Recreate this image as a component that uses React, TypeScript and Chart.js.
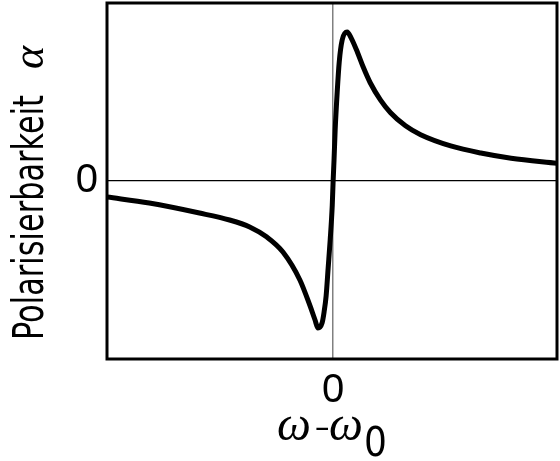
import React, { useEffect, useRef } from "react";
import { Chart, registerables } from "chart.js";

Chart.register(...registerables);

// ω − ω0 (arbitrary units)
const detuning = [
  -10, -8.13, -5.91, -4.58, -3.69, -2.93, -2.22, -1.47, -1.02, -0.8, -0.67,
  -0.49, -0.4, -0.31, -0.22, -0.13, -0.04, 0, 0.04, 0.09, 0.18, 0.27, 0.4,
  0.62, 0.8, 1.07, 1.33, 1.64, 2.09, 2.53, 3.2, 3.87, 5.2, 6.53, 7.87, 9.9,
];
// Polarisierbarkeit α (arbitrary units)
const polarizability = [
  -0.9, -1.24, -1.8, -2.19, -2.58, -3.15, -3.99, -5.56, -7.02, -7.81, -8.26,
  -7.98, -7.36, -6.46, -4.89, -3.31, -1.4, 0, 1.18, 2.87, 5.0, 6.69, 7.92,
  8.37, 8.03, 7.25, 6.4, 5.52, 4.56, 3.85, 3.1, 2.6, 1.97, 1.57, 1.28, 1.0,
];
const xTicks = [0];
const yTicks = [0];
const yTitle = "Polarisierbarkeit";
const yTitleSymbol = "α";
const xTitleParts = ["ω", "–", "ω", "0"];

const SANS_NARROW = '"Liberation Sans Narrow", "DejaVu Sans Condensed", "Liberation Sans", sans-serif';
const SERIF_ITALIC = 'italic 48px "Liberation Serif", "DejaVu Serif", serif';

const framePlugin = {
  id: "frameAndTitles",
  afterDraw(chart: any) {
    const { ctx, chartArea: a } = chart;
    ctx.save();
    ctx.strokeStyle = "#000";
    ctx.lineWidth = 3;
    ctx.strokeRect(a.left, a.top, a.right - a.left, a.bottom - a.top);
    ctx.fillStyle = "#000";

    // y title (rotated)
    ctx.save();
    ctx.translate(43, 340);
    ctx.rotate(-Math.PI / 2);
    ctx.textAlign = "left";
    ctx.textBaseline = "alphabetic";
    ctx.font = "42px " + SANS_NARROW;
    const w = ctx.measureText(yTitle).width;
    const s = 245 / w;
    ctx.save();
    ctx.scale(s, 1);
    ctx.fillText(yTitle, 0, 0);
    ctx.restore();
    ctx.font = 'italic 44px "Liberation Serif", "DejaVu Serif", serif';
    ctx.fillText(yTitleSymbol, 271, 0);
    ctx.restore();

    // x title
    ctx.textAlign = "left";
    ctx.textBaseline = "alphabetic";
    ctx.font = SERIF_ITALIC;
    ctx.fillText(xTitleParts[0], 277, 440);
    ctx.font = "32px " + SANS_NARROW;
    ctx.fillText(xTitleParts[1], 315, 438);
    ctx.font = SERIF_ITALIC;
    ctx.fillText(xTitleParts[2], 329, 440);
    ctx.font = "40px " + SANS_NARROW;
    ctx.fillText(xTitleParts[3], 364, 456);
    ctx.restore();
  },
};

export default function App() {
  const ref = useRef<HTMLCanvasElement | null>(null);
  useEffect(() => {
    if (!ref.current) return;
    const chart = new Chart(ref.current, {
      type: "line",
      data: {
        datasets: [
          {
            data: detuning.map((x, i) => ({ x, y: polarizability[i] })),
            borderColor: "#000",
            borderWidth: 5,
            pointRadius: 0,
            cubicInterpolationMode: "monotone",
            fill: false,
          },
        ],
      },
      options: {
        animation: false,
        responsive: false,
        layout: { padding: { top: 3, right: 3, left: 0, bottom: 0 } },
        plugins: { legend: { display: false }, tooltip: { enabled: false } },
        scales: {
          x: {
            type: "linear",
            min: -10,
            max: 9.9,
            afterBuildTicks: (sc: any) => {
              sc.ticks = xTicks.map((v) => ({ value: v }));
            },
            afterFit: (sc: any) => {
              sc.height = 102;
              sc.paddingLeft = 0;
              sc.paddingRight = 0;
            },
            ticks: {
              color: "#000",
              padding: 8,
              font: { family: '"Liberation Sans", sans-serif', size: 40 },
            },
            grid: { color: "#808080", lineWidth: 1.5, drawTicks: false },
            border: { display: false },
          },
          y: {
            type: "linear",
            min: -10,
            max: 10,
            afterBuildTicks: (sc: any) => {
              sc.ticks = yTicks.map((v) => ({ value: v }));
            },
            afterFit: (sc: any) => {
              sc.width = 107;
              sc.paddingTop = 0;
              sc.paddingBottom = 0;
            },
            ticks: {
              color: "#000",
              padding: 9,
              font: { family: '"Liberation Sans", sans-serif', size: 40 },
            },
            grid: { color: "#000", lineWidth: 1.3, drawTicks: false },
            border: { display: false },
          },
        },
      },
      plugins: [framePlugin],
    });
    return () => chart.destroy();
  }, []);
  return (
    <div style={{ position: "absolute", left: 0, top: 0, width: 560, height: 461, background: "#fff" }}>
      <canvas ref={ref} width={560} height={461} style={{ display: "block" }} />
    </div>
  );
}
